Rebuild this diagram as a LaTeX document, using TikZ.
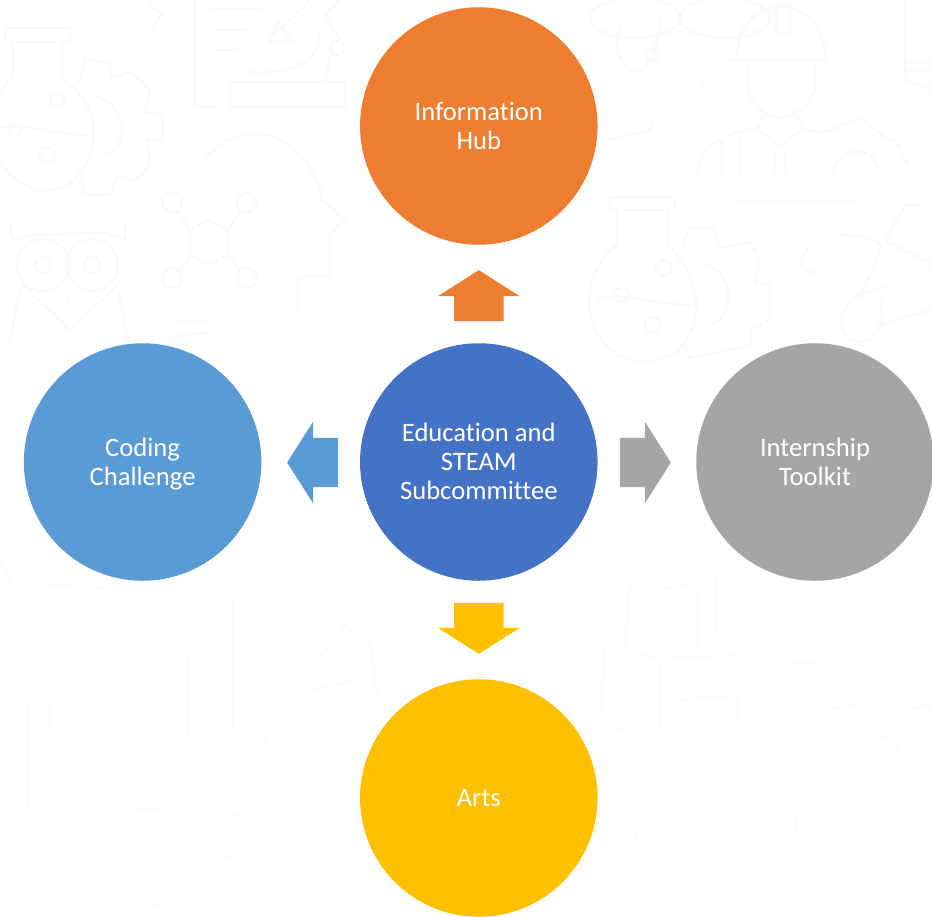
\documentclass[tikz,border=0pt]{standalone}
\usepackage{fontspec}
\setmainfont[Ligatures=NoCommon]{Carlito}
\usetikzlibrary{shapes.arrows}
\definecolor{cBlue}{HTML}{4472C4}
\definecolor{cOrange}{HTML}{ED7D31}
\definecolor{cGray}{HTML}{A5A5A5}
\definecolor{cGold}{HTML}{FFC000}
\definecolor{cSky}{HTML}{5B9BD5}
\definecolor{wmA}{HTML}{FAFAFA}
\definecolor{wmB}{HTML}{FCFCFC}
\newcommand\linerule{\rule[-5.7pt]{0pt}{29pt}}
\tikzset{
  x=1pt,y=-1pt,
  disc/.style={circle,minimum size=237.5pt,inner sep=0pt,text=white,align=center,
    font=\fontsize{26.6}{29}\selectfont},
  blockarrow/.style={single arrow,minimum height=51pt,inner xsep=0pt,inner ysep=24.5pt,
    single arrow head extend=16pt,single arrow tip angle=115,text width=0pt,text height=0pt,text depth=0pt},
  faint/.style={draw=wmA,line width=2.4pt,line join=round,line cap=round},
  fainter/.style={draw=wmB,line width=2.6pt,line join=round}
}
\begin{document}
\begin{tikzpicture}
\useasboundingbox (0,0) rectangle (932,916);
\fill[white] (0,0) rectangle (932,916);
% faint watermark icons
\begin{scope}
\clip (0,0) rectangle (932,916);
% flask and gear, top left
\draw[faint] (5,28) rectangle (70,42) (13,42) -- (13,78) (62,42) -- (62,78);
\draw[faint] (13,78) .. controls (-20,100) and (-25,170) .. (38,190) .. controls (80,195) and (100,150) .. (92,118) .. controls (88,100) and (75,88) .. (62,78);
\draw[faint] (0,128) .. controls (30,122) and (50,135) .. (88,135);
\draw[faint] (57,100) circle (7) (15,130) circle (6) (47,155) circle (8);
\draw[faint] (80,80) -- (85,60) -- (108,62) -- (112,78) -- (130,72) -- (150,90) -- (145,112) -- (163,115) -- (163,140) -- (147,140) -- (150,165) -- (135,182) -- (118,175) -- (110,195) -- (85,195) -- (80,180);
\draw[faint] (95,97) .. controls (125,100) and (135,150) .. (100,155);
\draw[faint] (150,5) -- (162,14) -- (152,27);
% document and microscope
\draw[faint] (195,0) -- (195,107) -- (220,107) (230,107) -- (230,82) -- (345,82) -- (345,107) -- (230,107);
\draw[faint] (212,9) -- (260,9) (212,30) -- (247,30) (212,50) -- (237,50);
\draw[faint] (250,72) .. controls (300,75) and (325,55) .. (318,30) (330,55) -- (325,82);
\draw[faint] (337,48) circle (7) (275,35) -- (310,0) (325,15) -- (340,0) (270,42) -- (293,42) -- (278,22) -- cycle (325,15) -- (340,40);
% head and molecule
\draw[faint] (205,160) .. controls (225,130) and (270,125) .. (295,150) .. controls (315,170) and (320,185) .. (322,200) -- (345,220) -- (330,235) -- (330,275) -- (298,277) -- (298,310);
\draw[faint] (208,220) -- (228,230) -- (228,255) -- (208,265) -- (190,255) -- (190,230) -- cycle;
\draw[faint] (172,203) circle (10) (247,203) circle (10) (172,278) circle (10) (247,278) circle (10);
\draw[faint] (178,212) -- (190,230) (240,212) -- (228,230) (180,272) -- (190,255) (240,272) -- (228,255);
\draw[faint] (165,338) -- (210,332) (180,322) -- (210,322);
% owl
\draw[faint] (43,265) circle (26) (92,265) circle (26) (43,265) circle (8) (92,265) circle (8);
\draw[faint] (10,222) -- (12,240) -- (30,235) -- (105,233) -- (125,240) -- (125,222);
\draw[faint] (22,285) -- (70,330) -- (118,285) (10,340) -- (20,290) (128,340) -- (118,290) (70,298) -- (68,302);
% atom, top centre-right
\draw[faint] (635,18) ellipse (45 and 20) (725,18) ellipse (-45 and 20);
\draw[faint] (620,25) .. controls (610,60) and (630,75) .. (640,70) .. controls (655,65) and (660,30) .. (660,20);
\draw[faint] (652,55) circle (6);
% engineer
\draw[faint] (737,58) .. controls (737,-10) and (825,-10) .. (825,58) (730,60) -- (828,60) (776,5) rectangle (790,32);
\draw[faint] (748,60) -- (748,90) .. controls (755,110) and (770,118) .. (780,118) .. controls (795,118) and (810,105) .. (815,88) -- (815,60);
\draw[faint] (765,112) -- (757,128) -- (780,148) -- (803,128) -- (795,112);
\draw[faint] (697,172) .. controls (700,145) and (730,132) .. (755,128) (722,172) -- (722,142) (740,172) -- (740,138) (775,172) -- (775,155) (785,172) -- (785,155);
\draw[faint] (803,128) .. controls (830,140) and (845,120) .. (860,118) .. controls (875,125) and (880,140) .. (895,140) (895,140) -- (910,170);
\draw[faint] (833,170) .. controls (845,145) and (870,145) .. (880,170);
\draw[faint] (702,85) circle (1) (863,88) -- (867,88) (625,135) .. controls (640,135) and (652,130) .. (652,122) (607,140) -- (650,130);
% bulb, top right
\draw[faint] (905,0) -- (905,78) .. controls (915,85) and (925,88) .. (932,88) (905,62) -- (932,62) (905,70) -- (932,70);
% second flask and gear
\draw[faint] (610,197) rectangle (675,210) (617,210) -- (617,245) (668,210) -- (668,245);
\draw[faint] (617,245) .. controls (570,280) and (585,360) .. (645,362) .. controls (700,360) and (715,290) .. (668,245);
\draw[faint] (597,300) .. controls (620,290) and (650,305) .. (692,305);
\draw[faint] (663,268) circle (8) (622,295) circle (7) (653,325) circle (8);
\draw[faint] (682,245) -- (690,228) -- (712,228) -- (720,248) -- (750,242) -- (760,262) -- (755,283) -- (770,285) -- (770,320) -- (750,330) -- (752,345) -- (690,358) -- (685,345);
\draw[faint] (705,265) .. controls (735,270) and (735,320) .. (710,325);
\draw[faint] (740,202) -- (853,202) (810,248) .. controls (795,258) and (800,275) .. (815,272);
% hourglass atom right
\draw[faint] (840,235) .. controls (860,235) and (885,240) .. (880,250) .. controls (870,280) and (860,290) .. (862,295) .. controls (835,305) and (835,340) .. (860,342) .. controls (880,340) and (885,320) .. (880,300);
\draw[faint] (885,240) -- (905,205) -- (925,205) (885,240) -- (932,265) (880,325) -- (932,310) (855,295) -- (890,285);
% bottom left desk (very faint)
\draw[fainter] (52,650) -- (182,650) (188,652) -- (188,735) (0,690) -- (78,690) -- (78,700) (28,700) -- (28,810) (50,700) -- (50,735);
\draw[fainter] (100,688) -- (130,688) (100,702) -- (147,702) (100,712) -- (147,712) (100,620) -- (195,620);
\draw[fainter] (228,595) -- (325,595) (233,600) -- (233,732) (260,628) -- (308,628) (260,650) -- (290,650) (260,675) -- (275,675);
\draw[fainter] (290,725) -- (358,725) (325,610) -- (370,645) -- (378,700) (310,670) -- (345,625) (310,690) -- (355,680);
\draw[fainter] (265,738) -- (265,750) -- (290,730) (135,810) -- (165,810) (225,820) -- (245,810) (215,855) -- (235,860) (320,845) -- (308,855) (150,905) -- (165,905) (165,900) -- (165,895);
\draw[fainter] (0,560) -- (15,590) (45,585) -- (110,588);
% bottom right figure (very faint)
\draw[fainter] (630,580) -- (625,645) (715,575) -- (715,635) (650,590) -- (690,585) (698,590) -- (698,650) (605,650) -- (600,715) (628,650) -- (660,660) (640,660) -- (740,655) (610,730) -- (628,730) (660,665) -- (660,730) (680,700) -- (740,695) (735,690) -- (738,720);
\draw[fainter] (805,613) -- (900,613) (805,648) -- (820,648) (790,662) -- (820,662) (795,675) -- (810,675) (875,690) -- (875,700) (820,710) -- (860,705) (900,710) -- (932,705) (880,735) -- (900,745) (890,745) -- (900,750) (900,805) -- (932,805) (796,815) -- (796,830) (635,830) -- (635,845);
\end{scope}
% diagram
\node[disc,fill=cBlue] (center) at (478.8,462) {\linerule Education and\\\linerule STEAM\\\linerule Subcommittee};
\node[disc,fill=cOrange] (hub) at (478.8,126) {\linerule Information\\\linerule Hub};
\node[disc,fill=cSky] (coding) at (142.6,462) {\linerule Coding\\\linerule Challenge};
\node[disc,fill=cGray] (intern) at (815,462) {\linerule Internship\\\linerule Toolkit};
\node[disc,fill=cGold] (arts) at (478.8,798) {\linerule Arts};
\node[blockarrow,fill=cOrange,rotate=90] (aup) at (478.8,303.5) {};
\node[blockarrow,fill=cSky,rotate=180] (aleft) at (320.5,462.5) {};
\node[blockarrow,fill=cGray] (aright) at (637.5,462.5) {};
\node[blockarrow,fill=cGold,rotate=-90] (adown) at (478.8,620.5) {};
\end{tikzpicture}
\end{document}
